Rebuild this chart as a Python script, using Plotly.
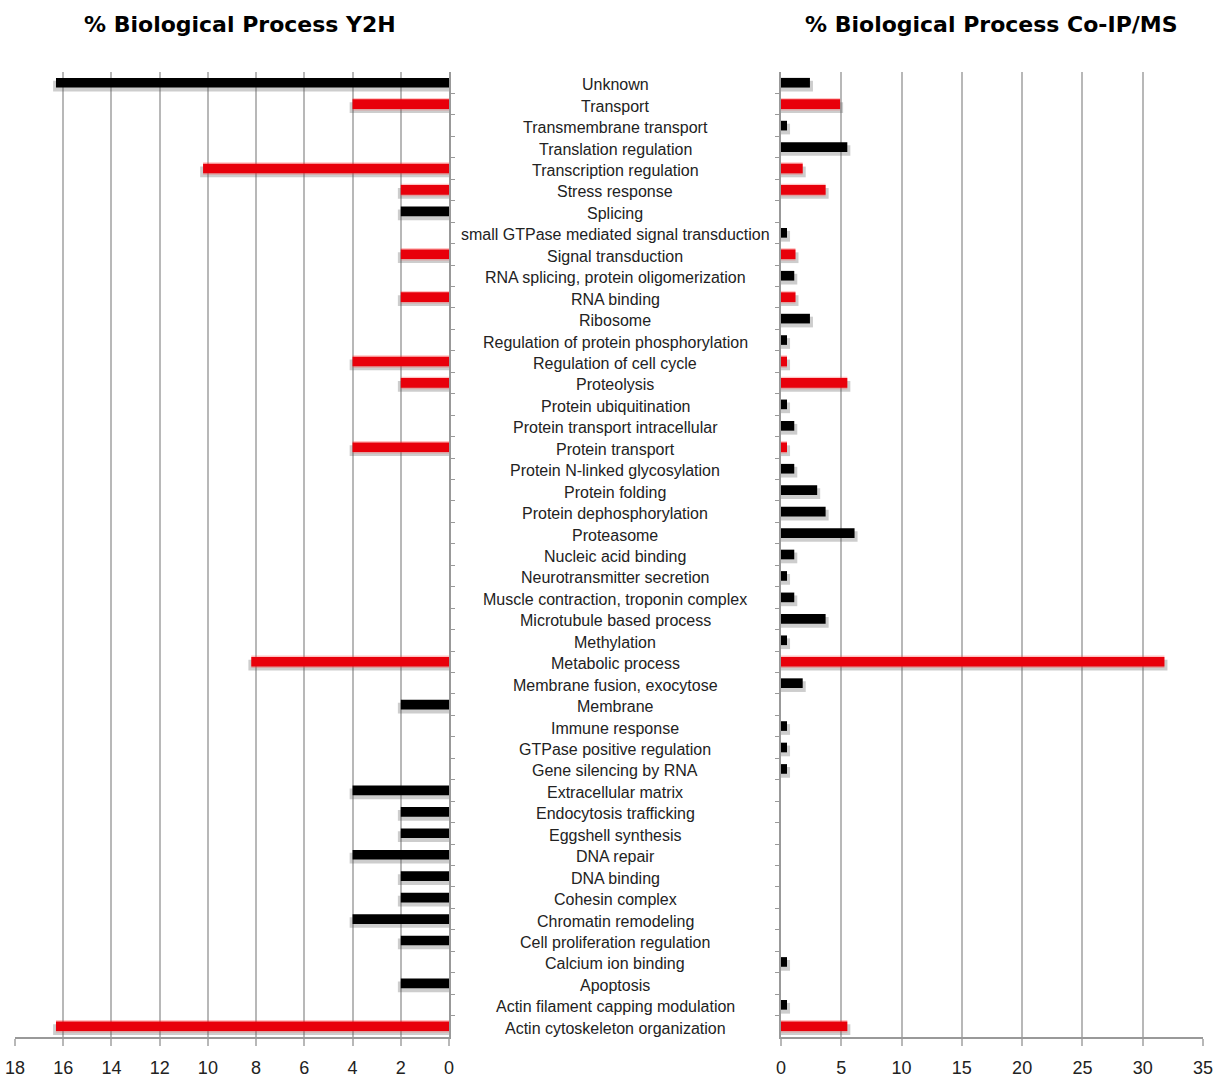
import plotly.graph_objects as go

categories = [
    "Unknown", "Transport", "Transmembrane transport", "Translation regulation",
    "Transcription regulation", "Stress response", "Splicing",
    "small GTPase mediated signal transduction", "Signal transduction",
    "RNA splicing, protein oligomerization", "RNA binding", "Ribosome",
    "Regulation of protein phosphorylation", "Regulation of cell cycle",
    "Proteolysis", "Protein ubiquitination", "Protein transport intracellular",
    "Protein transport", "Protein N-linked glycosylation", "Protein folding",
    "Protein dephosphorylation", "Proteasome", "Nucleic acid binding",
    "Neurotransmitter secretion", "Muscle contraction, troponin complex",
    "Microtubule based process", "Methylation", "Metabolic process",
    "Membrane fusion, exocytose", "Membrane", "Immune response",
    "GTPase positive regulation", "Gene silencing by RNA", "Extracellular matrix",
    "Endocytosis trafficking", "Eggshell synthesis", "DNA repair", "DNA binding",
    "Cohesin complex", "Chromatin remodeling", "Cell proliferation regulation",
    "Calcium ion binding", "Apoptosis", "Actin filament capping modulation",
    "Actin cytoskeleton organization",
]

# % Biological Process Y2H (None = no bar)
y2h_values = [
    16.3, 4.0, None, None, 10.2, 2.0, 2.0, None, 2.0, None, 2.0, None, None, 4.0,
    2.0, None, None, 4.0, None, None, None, None, None, None, None, None, None, 8.2,
    None, 2.0, None, None, None, 4.0, 2.0, 2.0, 4.0, 2.0, 2.0, 4.0, 2.0, None, 2.0,
    None, 16.3,
]

# % Biological Process Co-IP/MS (None = no bar)
coip_values = [
    2.4, 4.9, 0.5, 5.5, 1.8, 3.7, None, 0.5, 1.2, 1.1, 1.2, 2.4, 0.5, 0.5, 5.5,
    0.5, 1.1, 0.5, 1.1, 3.0, 3.7, 6.1, 1.1, 0.5, 1.1, 3.7, 0.5, 31.8, 1.8, None,
    0.5, 0.5, 0.5, None, None, None, None, None, None, None, None, 0.5, None, 0.5,
    5.5,
]

# categories drawn in red
red_categories = [
    "Transport", "Transcription regulation", "Stress response", "Signal transduction",
    "RNA binding", "Regulation of cell cycle", "Proteolysis", "Protein transport",
    "Metabolic process", "Actin cytoskeleton organization",
]

left_ticks = [0, 2, 4, 6, 8, 10, 12, 14, 16, 18]
right_ticks = [0, 5, 10, 15, 20, 25, 30, 35]

title_left = "% Biological Process Y2H"
title_right = "% Biological Process Co-IP/MS"

n = len(categories)
pos = list(range(n))
RED = "#e8000b"
BLACK = "#000000"
colors = [RED if c in red_categories else BLACK for c in categories]

W, H = 1219, 1080
ydom = [1 - 1037 / H, 1 - 72 / H]
xdom_left = [15 / W, 449 / W]
xdom_right = [781 / W, 1203 / W]

fig = go.Figure()

def add_bars(vals, xa, ya, shadow_dx):
    ys = [p for p, v in zip(pos, vals) if v is not None]
    xs = [v for v in vals if v is not None]
    cs = [c for c, v in zip(colors, vals) if v is not None]
    glow = ["rgba(255,60,60,0.30)" if c == RED else "rgba(0,0,0,0)" for c in cs]
    # soft shadow
    fig.add_trace(go.Bar(
        y=[y + 0.16 for y in ys], x=[x + shadow_dx for x in xs], orientation="h",
        width=0.5, marker=dict(color="rgba(90,90,90,0.30)", line=dict(width=0)),
        xaxis=xa, yaxis=ya, hoverinfo="skip", showlegend=False))
    # glow
    fig.add_trace(go.Bar(
        y=ys, x=xs, orientation="h", width=0.58,
        marker=dict(color=glow, line=dict(width=0)),
        xaxis=xa, yaxis=ya, hoverinfo="skip", showlegend=False))
    # main bars
    fig.add_trace(go.Bar(
        y=ys, x=xs, orientation="h", width=0.45,
        marker=dict(color=cs, line=dict(width=0)),
        xaxis=xa, yaxis=ya, showlegend=False))

add_bars(y2h_values, "x", "y", 0.12)
add_bars(coip_values, "x2", "y2", 0.25)

for i, c in enumerate(categories):
    fig.add_annotation(
        x=615 / W, xref="paper", y=i, yref="y", text=c, showarrow=False,
        xanchor="center", yanchor="middle", yshift=-2,
        font=dict(family="Liberation Sans, Arial", size=16, color="#222222"))

for txt, xc in [(title_left, 240), (title_right, 991)]:
    fig.add_annotation(
        x=xc / W, xref="paper", y=1 - 25 / H, yref="paper", text="<b>" + txt + "</b>",
        showarrow=False, xanchor="center", yanchor="middle",
        font=dict(family="DejaVu Sans, Arial", size=22, color="#000000"))

grid = "#b8b8b8"
axis_common = dict(
    showgrid=True, gridcolor=grid, gridwidth=1.5, zeroline=False,
    showline=True, linecolor="#999999", linewidth=1.5,
    ticks="outside", ticklen=7, tickcolor=grid, tickwidth=1.5,
    tickfont=dict(family="Liberation Sans, Arial", size=18, color="#222222"),
    ticklabelstandoff=7, automargin=False,
)

yrange = [n - 0.5, -0.5]
bound_ticks = [p + 0.5 for p in pos[:-1]]

fig.update_layout(
    width=W, height=H, margin=dict(l=0, r=0, t=0, b=0, autoexpand=False),
    plot_bgcolor="white", paper_bgcolor="white", barmode="overlay",
    xaxis=dict(domain=xdom_left, range=[18, 0], tickvals=left_ticks,
               anchor="y", **axis_common),
    xaxis2=dict(domain=xdom_right, range=[0, 35], tickvals=right_ticks,
                anchor="y2", **axis_common),
    yaxis=dict(domain=ydom, range=yrange, anchor="x", side="right",
               showgrid=False, zeroline=False, showline=True, linecolor="#999999",
               linewidth=1.5, tickvals=bound_ticks, ticks="outside", ticklen=4,
               tickcolor="#999999", showticklabels=False, automargin=False),
    yaxis2=dict(domain=ydom, range=yrange, anchor="x2", side="left",
                showgrid=False, zeroline=False, showline=True, linecolor="#999999",
                linewidth=1.5, tickvals=bound_ticks, ticks="outside", ticklen=4,
                tickcolor="#999999", showticklabels=False, matches="y",
                automargin=False),
)

fig.write_html("out.html", config={"displayModeBar": False},
               post_script="document.body.style.margin='0';")
